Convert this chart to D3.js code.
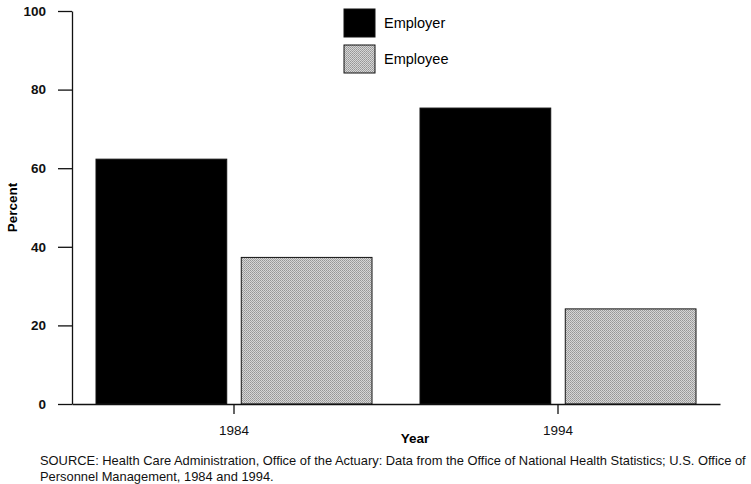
<!DOCTYPE html>
<html>
<head>
<meta charset="utf-8">
<script src="https://cdn.jsdelivr.net/npm/d3@7"></script>
<style>
  body { margin: 0; background: #fff; }
  svg { font-family: "Liberation Sans", Arial, sans-serif; }
</style>
</head>
<body>
<div id="chart"></div>
<script>
  // data
  var years = ['1984', '1994'],
    seriesNames = ['Employer', 'Employee'],
    employer = [62.3, 75.3],
    employee = [37.3, 24.2],
    yTicks = [0, 20, 40, 60, 80, 100];

  var width = 751,
    height = 484,
    plotLeft = 72, plotRight = 720,
    plotTop = 11, plotBottom = 404;

  var svg = d3.select('#chart').append('svg')
    .attr('width', width)
    .attr('height', height);

  // halftone-ish gray for employee bars
  var defs = svg.append('defs');
  var pat = defs.append('pattern')
    .attr('id', 'dots')
    .attr('width', 2).attr('height', 2)
    .attr('patternUnits', 'userSpaceOnUse');
  pat.append('rect').attr('width', 2).attr('height', 2).attr('fill', '#d6d6d6');
  pat.append('rect').attr('width', 1).attr('height', 1).attr('fill', '#969696');
  pat.append('rect').attr('x', 1).attr('y', 1).attr('width', 1).attr('height', 1).attr('fill', '#a4a4a4');

  var fills = { Employer: '#000', Employee: 'url(#dots)' };

  var x = d3.scaleBand().domain(years).range([plotLeft, plotRight]);
  var x1 = d3.scaleBand().domain(seriesNames).range([24, x.bandwidth() - 24]).paddingInner(0.1);
  var y = d3.scaleLinear().domain([0, 100]).range([plotBottom, plotTop]);

  var rows = years.map(function(yr, i) {
    return { year: yr, Employer: employer[i], Employee: employee[i] };
  });

  // bars
  svg.append('g').selectAll('g')
    .data(rows)
    .enter().append('g')
    .attr('transform', function(d) { return 'translate(' + x(d.year) + ',0)'; })
    .selectAll('rect')
    .data(function(d) { return seriesNames.map(function(k) { return { key: k, value: d[k] }; }); })
    .enter().append('rect')
    .attr('x', function(d) { return x1(d.key); })
    .attr('y', function(d) { return y(d.value); })
    .attr('width', x1.bandwidth())
    .attr('height', function(d) { return plotBottom - y(d.value); })
    .attr('fill', function(d) { return fills[d.key]; })
    .attr('stroke', '#111')
    .attr('stroke-width', 1);

  // y axis
  var yAxis = svg.append('g')
    .attr('transform', 'translate(' + plotLeft + ',0)')
    .call(d3.axisLeft(y).tickValues(yTicks).tickSize(14).tickPadding(12).tickSizeOuter(0));
  yAxis.select('.domain').attr('stroke', '#111').attr('stroke-width', 1.3);
  yAxis.selectAll('.tick line').attr('stroke', '#111').attr('stroke-width', 1.3);
  yAxis.selectAll('text').attr('font-size', 13.5).attr('font-weight', 'bold').attr('fill', '#111')
    .attr('font-family', '"Liberation Sans", Arial, sans-serif');

  // x axis
  var xAxis = svg.append('g')
    .attr('transform', 'translate(0,' + plotBottom + ')')
    .call(d3.axisBottom(x).tickSize(10).tickPadding(11).tickSizeOuter(0));
  xAxis.select('.domain').attr('stroke', '#111').attr('stroke-width', 1.3);
  xAxis.selectAll('.tick line').attr('stroke', '#111').attr('stroke-width', 1.3);
  xAxis.selectAll('text').attr('font-size', 13.5).attr('fill', '#111')
    .attr('font-family', '"Liberation Sans", Arial, sans-serif');

  // axis titles
  svg.append('text')
    .attr('transform', 'translate(17,' + ((plotTop + plotBottom) / 2) + ') rotate(-90)')
    .attr('text-anchor', 'middle')
    .attr('font-size', 13.5).attr('font-weight', 'bold')
    .text('Percent');

  svg.append('text')
    .attr('x', 415).attr('y', 443)
    .attr('text-anchor', 'middle')
    .attr('font-size', 13.5).attr('font-weight', 'bold')
    .text('Year');

  // legend
  var legend = svg.append('g').selectAll('g')
    .data(seriesNames)
    .enter().append('g')
    .attr('transform', function(d, i) { return 'translate(344,' + (9 + i * 36) + ')'; });
  legend.append('rect')
    .attr('width', 31).attr('height', 28)
    .attr('fill', function(d) { return fills[d]; })
    .attr('stroke', '#111');
  legend.append('text')
    .attr('x', 40).attr('y', 19)
    .attr('font-size', 14.5)
    .text(function(d) { return d; });

  // source note
  var note = svg.append('text')
    .attr('font-size', 12.9).attr('fill', '#111');
  note.append('tspan').attr('x', 40).attr('y', 465)
    .text('SOURCE: Health Care Administration, Office of the Actuary: Data from the Office of National Health Statistics; U.S. Office of');
  note.append('tspan').attr('x', 40).attr('y', 481)
    .text('Personnel Management, 1984 and 1994.');
</script>
</body>
</html>
